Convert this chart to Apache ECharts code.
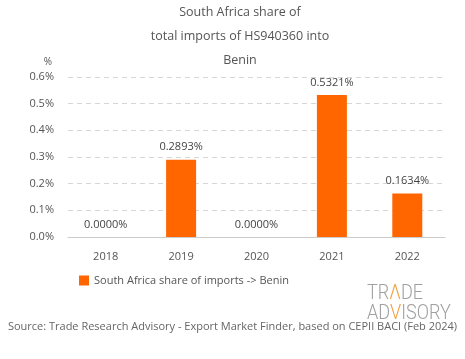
<!DOCTYPE html>
<html><head><meta charset="utf-8">
<script src="https://cdn.jsdelivr.net/npm/echarts@6/dist/echarts.min.js"></script>
<style>html,body{margin:0;padding:0;background:#fff}#c{width:465px;height:359px}</style>
</head><body><div id="c"></div>
<script>
const categories = ['2018', '2019', '2020', '2021', '2022'];
const shareValues = [0.0000, 0.2893, 0.0000, 0.5321, 0.1634];
const yTicks = [0, 0.1, 0.2, 0.3, 0.4, 0.5, 0.6];
const seriesName = 'South Africa share of imports -> Benin';
const titleLines = ['South Africa share of', 'total imports of HS940360 into', 'Benin'];
const sourceText = 'Source: Trade Research Advisory - Export Market Finder, based on CEPII BACI (Feb 2024)';

const FONT = 'Open Sans';
const chart = echarts.init(document.getElementById('c'), null, {renderer: 'canvas'});
chart.setOption({
  animation: false,
  backgroundColor: '#fff',
  title: {
    text: titleLines.join('\n'),
    left: 240, top: 0, padding: 0, textAlign: 'center',
    textStyle: {fontFamily: FONT, fontSize: 12.5, fontWeight: 'normal', color: '#555', lineHeight: 24}
  },
  grid: {left: 68, right: 20, top: 77, bottom: 122, containLabel: false},
  legend: {
    data: [seriesName], left: 74, top: 270, itemWidth: 10, itemHeight: 10, icon: 'rect',
    textStyle: {fontFamily: FONT, fontSize: 11, color: '#555'}
  },
  xAxis: {
    type: 'category', data: categories,
    axisLine: {lineStyle: {color: '#ccc'}}, axisTick: {show: false},
    axisLabel: {fontFamily: FONT, fontSize: 11, color: '#555', margin: 14}
  },
  yAxis: {
    type: 'value', min: yTicks[0], max: yTicks[yTicks.length - 1], interval: 0.1,
    name: '%', nameLocation: 'end', nameGap: 10,
    nameTextStyle: {fontFamily: FONT, fontSize: 10, color: '#555', align: 'right', padding: [0, 16, 0, 0]},
    axisLine: {show: false}, axisTick: {show: false},
    axisLabel: {fontFamily: FONT, fontSize: 11, color: '#555', margin: 14, formatter: v => v.toFixed(1) + '%'},
    splitLine: {lineStyle: {color: '#d6d6d6', type: [5, 4]}}
  },
  series: [{
    name: seriesName, type: 'bar', data: shareValues, barWidth: 30,
    itemStyle: {color: '#FF6600'},
    label: {show: true, position: 'top', distance: 7, fontFamily: FONT, fontSize: 11, color: '#444',
      formatter: p => p.value.toFixed(4) + '%'}
  }],
  graphic: [
    {type: 'text', left: 'center', top: 321,
     style: {text: sourceText, fontFamily: FONT, fontSize: 11, fill: '#666'}},
    {type: 'text', x: 367, y: 284, scaleX: 0.86, originX: 0, originY: 0,
     style: {text: '{g|TR}{o|Λ}{g|DE}\n{g|AD}{o|V}{g|ISORY}', lineHeight: 20,
       rich: {g: {fontSize: 21, fill: '#a0a0a0', fontFamily: 'Roboto', fontWeight: 300, lineHeight: 20},
              o: {fontSize: 21, fill: '#f0a040', fontFamily: 'Roboto', fontWeight: 300, lineHeight: 20}}}}
  ]
});
</script></body></html>
